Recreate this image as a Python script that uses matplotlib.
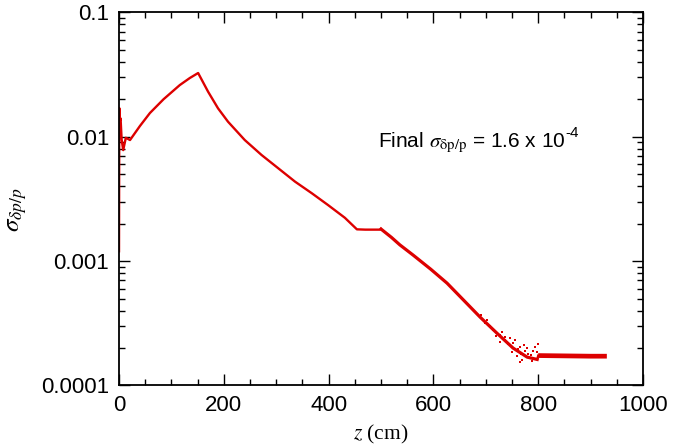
import matplotlib
matplotlib.use("Agg")
from matplotlib import pyplot as plt
from matplotlib.ticker import MultipleLocator, LogLocator, NullFormatter, FixedLocator, FixedFormatter
import numpy as np

# sigma_dp/p along z
z = [0, 0.5, 2, 3, 5, 8, 13, 21, 40, 59, 85, 116, 135, 151,
     170, 189, 208, 240, 272, 304, 336, 368, 399, 431, 454,
     470, 498, 500, 520, 536, 561, 595, 626, 660, 689, 721, 752, 779, 798,
     800, 850, 900, 931]
sig = [0.0012, 0.017, 0.0136, 0.014, 0.0095, 0.0078, 0.0098, 0.0094, 0.0122, 0.0155, 0.0200, 0.026, 0.0296, 0.0325,
       0.0230, 0.0169, 0.0132, 0.0094, 0.00713, 0.00557, 0.00435, 0.00351, 0.00282, 0.00223, 0.00180,
       0.00179, 0.00179, 0.00181, 0.00155, 0.00135, 0.00112, 0.00086, 0.000665, 0.000474, 0.000355, 0.000264,
       0.000200, 0.000169, 0.000162,
       0.000174, 0.000173, 0.000172, 0.000172]

# scattered points in the noisy part
z_noise = [690, 698, 702, 708, 714, 720, 727, 731, 737, 742, 746, 750, 752, 756, 760, 762, 765, 768,
           770, 774, 778, 781, 784, 788, 791, 794, 797, 799, 727, 737, 765, 772, 786]
sig_noise = [0.000370, 0.000320, 0.000336, 0.000300, 0.000279, 0.000250, 0.000254, 0.000270, 0.000232, 0.000215,
             0.000240, 0.000187, 0.000219, 0.000230, 0.000174, 0.000195, 0.000204, 0.000180,
             0.000160, 0.000190, 0.000200, 0.000180, 0.000165, 0.000158, 0.000190, 0.000204, 0.000187, 0.000215,
             0.000224, 0.000244, 0.000155, 0.000210, 0.000175]

xticks = [0, 200, 400, 600, 800, 1000]
yticks = [0.0001, 0.001, 0.01, 0.1]
ylabels = ["0.0001", "0.001", "0.01", "0.1"]

plt.rcParams['font.family'] = ['Liberation Sans', 'DejaVu Sans']
plt.rcParams['mathtext.fontset'] = 'stix'

RED = '#dd0000'

fig = plt.figure(figsize=(6.82, 4.47), dpi=100)
ax = fig.add_axes([0.1745, 0.1376, 0.7683, 0.8349])

n_up = z.index(500) + 1
n_tail = z.index(800)
ax.plot(z[:n_up], sig[:n_up], '-', color=RED, linewidth=1.7)
ax.plot(z[n_up - 1:n_tail], sig[n_up - 1:n_tail], '-', color=RED, linewidth=2.3)
ax.plot(z[n_tail - 1:n_tail + 1], sig[n_tail - 1:n_tail + 1], '-', color=RED, linewidth=1.6)
ax.plot(z[n_tail:], sig[n_tail:], '-', color=RED, linewidth=3.4, solid_capstyle='butt')
ax.plot(z_noise, sig_noise, 's', color=RED, markersize=1.5, markeredgewidth=0)

ax.set_yscale('log')
ax.set_xlim(0, 1000)
ax.set_ylim(0.0001, 0.1)

ax.xaxis.set_major_locator(FixedLocator(xticks))
ax.xaxis.set_minor_locator(MultipleLocator(50))
ax.yaxis.set_major_locator(FixedLocator(yticks))
ax.yaxis.set_major_formatter(FixedFormatter(ylabels))
ax.yaxis.set_minor_locator(LogLocator(base=10, subs=np.arange(2, 10)))
ax.yaxis.set_minor_formatter(NullFormatter())

ax.tick_params(which='both', direction='in', top=True, right=True, labelsize=16, width=1.0)
ax.tick_params(which='major', length=8, pad=7)
ax.tick_params(which='minor', length=4.5)
for s in ax.spines.values():
    s.set_linewidth(1.3)

ax.set_xlabel(r"$z$ (cm)", fontsize=15.5, family='Liberation Serif', labelpad=5)
ax.set_ylabel(r"$\sigma_{\delta p/p}$", fontsize=18)
ax.yaxis.set_label_coords(-0.172, 0.47)

t = ax.text(494, 0.0082, r"Final $\sigma_{\mathrm{\delta p/p}}$ = 1.6 x 10", fontsize=15)
ax.annotate("-4", xy=(1.0, 0.92), xycoords=t, fontsize=11, ha='left', va='center')

fig.savefig("out.png", dpi=100)
